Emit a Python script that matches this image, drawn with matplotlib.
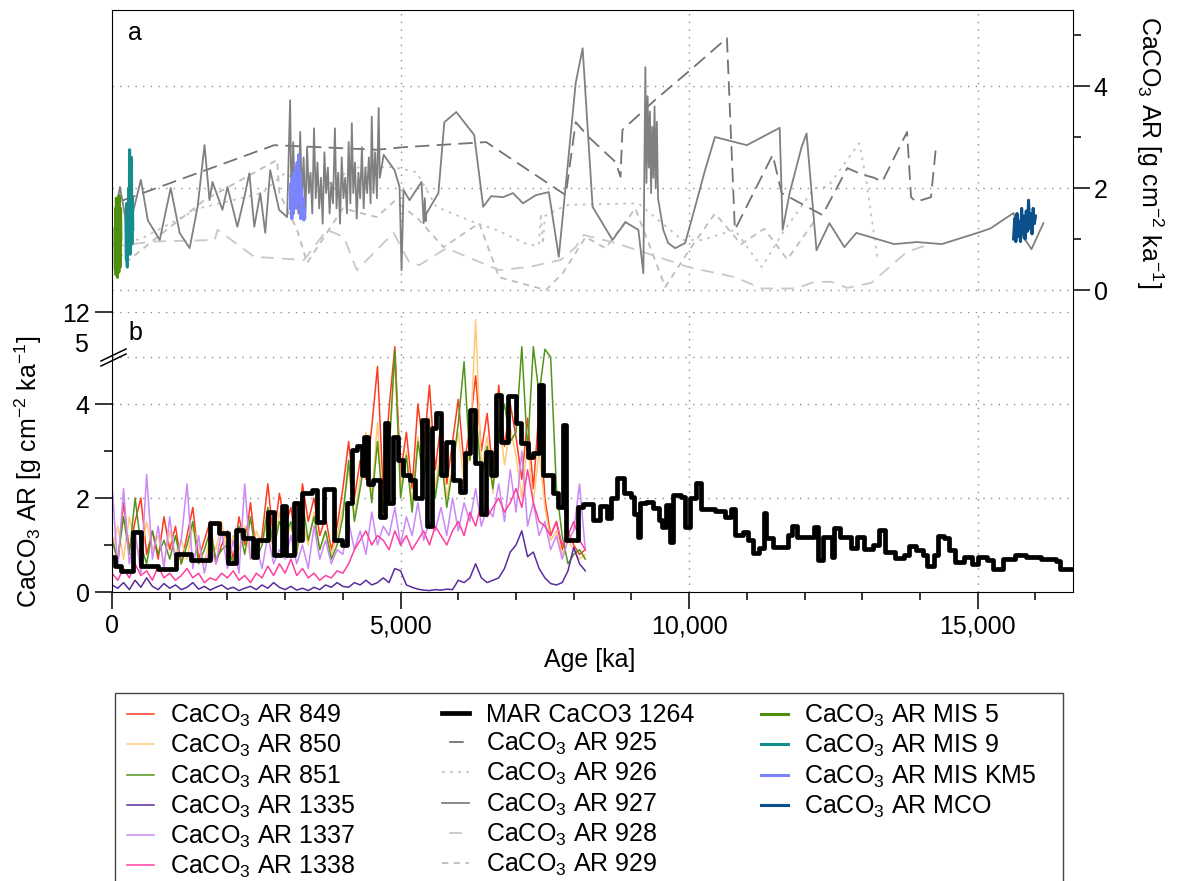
import numpy as np
import matplotlib
matplotlib.use("Agg")
import matplotlib.pyplot as plt
from matplotlib.lines import Line2D
from matplotlib.patches import Rectangle

plt.rcParams["font.family"] = ["Liberation Sans", "DejaVu Sans"]
plt.rcParams["mathtext.default"] = "regular"
plt.rcParams["font.size"] = 18

# ---------------- panel b: CaCO3 AR of the dense records (sampled every 100 ka)
age_b = [0, 100, 200, 300, 400, 500, 600, 700, 800, 900,
         1000, 1100, 1200, 1300, 1400, 1500, 1600, 1700, 1800, 1900,
         2000, 2100, 2200, 2300, 2400, 2500, 2600, 2700, 2800, 2900,
         3000, 3100, 3200, 3300, 3400, 3500, 3600, 3700, 3800, 3900,
         4000, 4100, 4200, 4300, 4400, 4500, 4600, 4700, 4800, 4900,
         5000, 5100, 5200, 5300, 5400, 5500, 5600, 5700, 5800, 5900,
         6000, 6100, 6200, 6300, 6400, 6500, 6600, 6700, 6800, 6900,
         7000, 7100, 7200, 7300, 7400, 7500, 7600, 7700, 7800, 7900,
         8000, 8100, 8200]

ar_849 = [1.2, 0.6, 1.9, 0.9, 1.5, 2.0, 0.8, 1.3, 0.7, 1.6,
          0.9, 1.4, 0.6, 1.2, 1.8, 0.7, 1.1, 1.5, 0.6, 1.0,
          1.3, 0.7, 1.6, 1.0, 1.9, 0.8, 1.2, 2.3, 1.1, 2.1,
          1.4, 1.8, 0.9, 2.3, 1.5, 2.0, 1.2, 1.6, 0.9, 1.4,
          2.2, 3.2, 2.0, 2.8, 2.4, 3.5, 4.8, 2.1, 3.9, 6.6,
          2.5, 3.4, 2.2, 4.0, 3.0, 4.4, 2.6, 3.6, 2.3, 3.2,
          4.1, 2.7, 3.5, 4.6, 3.0, 3.8, 2.5, 4.4, 3.1, 4.0,
          3.3, 2.4, 3.7, 2.2, 3.9, 2.0, 1.2, 1.5, 0.9, 1.3,
          1.0, 0.8, 0.9]
ar_850 = [0.9, 1.4, 0.7, 1.6, 1.0, 0.8, 1.5, 0.9, 1.2, 0.6,
          1.3, 0.8, 1.1, 0.7, 1.4, 1.0, 0.6, 1.2, 0.9, 1.5,
          0.8, 1.2, 0.9, 1.4, 0.7, 1.3, 1.0, 1.6, 0.8, 1.7,
          1.1, 1.4, 0.8, 1.5, 1.0, 1.7, 0.9, 1.3, 0.8, 1.2,
          1.8, 2.6, 1.6, 2.4, 3.4, 2.0, 3.6, 1.8, 2.9, 5.0,
          2.2, 3.0, 1.9, 3.3, 2.6, 3.7, 2.2, 3.1, 2.0, 2.7,
          3.4, 2.3, 3.0, 10.8, 2.6, 3.3, 2.1, 3.8, 2.7, 3.5,
          2.9, 2.0, 3.2, 1.9, 3.0, 1.8, 1.1, 1.3, 0.8, 1.1,
          0.9, 0.7, 0.8]
ar_851 = [1.1, 0.7, 1.6, 0.8, 2.0, 1.0, 0.6, 1.3, 0.8, 1.1,
          0.7, 1.2, 0.6, 1.0, 1.5, 0.6, 0.9, 1.3, 0.7, 0.9,
          1.0, 0.6, 1.4, 0.8, 1.6, 0.7, 1.0, 1.8, 0.9, 1.5,
          1.2, 1.5, 0.8, 1.9, 1.1, 1.6, 0.9, 1.3, 0.7, 1.0,
          1.6, 2.8, 1.5, 2.2, 3.0, 1.9, 3.2, 1.7, 3.0, 6.0,
          2.0, 2.9, 1.7, 3.2, 2.4, 3.4, 2.0, 2.9, 1.8, 2.6,
          3.6, 4.9, 2.8, 3.9, 2.4, 3.1, 2.2, 3.4, 4.0, 3.2,
          3.4, 6.6, 3.0, 6.6, 4.2, 6.2, 5.0, 2.2, 1.2, 0.6,
          0.8, 0.9, 0.7]
ar_1335 = [0.15, 0.08, 0.2, 0.05, 0.25, 0.1, 0.3, 0.12, 0.05, 0.18,
           0.08, 0.15, 0.05, 0.1, 0.2, 0.06, 0.12, 0.04, 0.1, 0.15,
           0.06, 0.1, 0.03, 0.08, 0.12, 0.05, 0.15, 0.08, 0.2, 0.1,
           0.05, 0.12, 0.04, 0.08, 0.03, 0.1, 0.05, 0.15, 0.1, 0.2,
           0.12, 0.1, 0.2, 0.15, 0.25, 0.15, 0.2, 0.3, 0.2, 0.5,
           0.45, 0.15, 0.1, 0.06, 0.04, 0.03, 0.05, 0.04, 0.06, 0.05,
           0.25, 0.2, 0.3, 0.6, 0.3, 0.2, 0.25, 0.3, 0.5, 0.85,
           1.0, 1.3, 0.75, 0.85, 0.5, 0.3, 0.18, 0.15, 0.2, 0.45,
           0.95, 0.6, 0.45]
ar_1337 = [2.3, 0.5, 2.2, 0.6, 1.3, 0.4, 2.5, 0.7, 1.4, 0.5,
           1.6, 0.6, 1.1, 2.3, 0.5, 1.2, 0.4, 1.0, 0.6, 1.3,
           0.5, 1.1, 0.4, 2.3, 0.7, 1.0, 0.5, 1.2, 0.6, 0.9,
           0.7, 1.2, 0.6, 1.0, 0.5, 1.4, 0.7, 1.1, 0.6, 0.9,
           0.8, 1.5, 0.9, 1.3, 0.8, 1.7, 1.0, 1.4, 1.2, 1.8,
           1.0, 1.6, 1.2, 1.9, 1.1, 1.5, 1.3, 1.8, 1.2, 2.0,
           1.3, 1.9, 1.5, 2.2, 1.4, 1.8, 1.6, 2.3, 1.5, 2.6,
           1.7, 3.0, 1.4, 1.9, 1.2, 1.5, 0.9, 1.2, 0.7, 1.1,
           1.3, 2.3, 0.9]
ar_1338 = [0.4, 0.25, 0.5, 0.3, 0.6, 0.35, 0.45, 0.25, 0.55, 0.3,
           0.4, 0.25, 0.35, 0.5, 0.3, 0.4, 0.2, 0.3, 0.25, 0.4,
           0.3, 0.45, 0.25, 0.35, 0.2, 0.4, 0.3, 0.55, 0.35, 0.6,
           0.4, 0.7, 0.35, 0.5, 0.3, 0.4, 0.25, 0.35, 0.3, 0.45,
           0.4, 0.6, 0.9, 1.1, 1.3, 1.0, 1.2, 1.1, 0.9, 1.3,
           1.0, 1.2, 0.9, 1.1, 1.3, 1.0, 1.4, 1.2, 1.0, 1.3,
           1.5, 1.2, 1.7, 1.4, 1.9, 1.6, 1.8, 2.0, 1.7, 1.9,
           2.2, 1.8, 2.6, 1.9, 1.5, 1.4, 1.2, 1.5, 1.0, 1.2,
           1.5, 1.1, 0.9]

# MAR CaCO3 1264 (stepped record)
age_1264 = [0, 60, 150, 370, 510, 800, 1115, 1370, 1690, 1860, 2005, 2150, 2265,
            2440, 2520, 2695, 2810, 2950, 3010, 3155, 3240, 3300, 3466, 3552, 3667,
            3840, 3983, 4070, 4156, 4242, 4328, 4370, 4443, 4530, 4645, 4731, 4788,
            4875, 4961, 5047, 5162, 5248, 5363, 5450, 5536, 5622, 5708, 5795, 5910,
            6025, 6111, 6197, 6283, 6398, 6485, 6571, 6657, 6743, 6858, 7002, 7088,
            7203, 7290, 7400, 7462, 7548, 7635, 7721, 7807, 7865, 8066, 8152, 8325,
            8456, 8583, 8646, 8741, 8868, 8995, 9046, 9109, 9154, 9249, 9375, 9470,
            9534, 9597, 9661, 9724, 9851, 9933, 10022, 10124, 10212, 10453, 10612,
            10720, 10802, 10929, 11011, 11100, 11214, 11290, 11328, 11455, 11708,
            11784, 11860, 12165, 12228, 12324, 12469, 12514, 12609, 12799, 12913,
            13021, 13192, 13294, 13401, 13560, 13718, 13801, 13928, 14054, 14118,
            14244, 14308, 14416, 14498, 14606, 14765, 14904, 15005, 15157, 15272,
            15430, 15652, 15842, 16095, 16362, 16425, 16650]
mar_1264 = [0.75, 0.55, 0.45, 1.28, 0.55, 0.50, 0.80, 0.68, 1.46, 1.25, 0.61, 1.32, 1.14,
            0.75, 1.10, 1.71, 0.79, 1.82, 0.79, 1.89, 1.10, 2.10, 2.17, 1.50, 2.20,
            1.10, 1.00, 1.90, 3.02, 3.10, 2.50, 3.30, 2.30, 2.38, 1.60, 3.60, 1.90,
            3.30, 2.80, 2.50, 2.38, 2.00, 3.66, 1.40, 3.50, 3.80, 2.50, 3.20, 2.38,
            2.13, 2.95, 3.87, 2.74, 1.67, 2.98, 2.50, 4.19, 3.20, 4.16, 3.60, 3.16,
            2.88, 2.95, 4.40, 2.50, 2.50, 2.10, 1.81, 3.55, 1.10, 1.81, 1.88, 1.53,
            1.82, 1.57, 1.99, 2.42, 2.10, 2.03, 1.67, 1.18, 1.89, 1.92, 1.78, 1.53,
            1.39, 1.85, 1.07, 2.06, 2.03, 1.39, 1.99, 2.31, 1.76, 1.73, 1.60,
            1.76, 1.21, 1.28, 1.11, 0.84, 0.93, 1.69, 1.14, 0.95, 1.21,
            1.40, 1.16, 1.39, 0.68, 1.16, 0.74, 1.37, 1.16, 0.93, 1.18,
            0.91, 1.00, 1.32, 0.86, 0.72, 0.79, 0.98, 0.89, 0.79, 0.55,
            0.79, 1.19, 1.14, 0.89, 0.64, 0.75, 0.60, 0.74, 0.68, 0.50,
            0.70, 0.79, 0.74, 0.70, 0.65, 0.48, 0.48]

# ---------------- panel a: lower-resolution records
age_927 = [50, 138, 276, 500, 620, 827, 1017, 1172, 1345, 1483, 1603, 1690, 1741,
           1914, 2000, 2172, 2293, 2379, 2465, 2569, 2655, 2741, 2896, 3034, 3086,
           3110, 3140, 3170, 3200, 3230, 3260, 3290, 3320, 3350, 3380, 3410, 3440,
           3470, 3500, 3530, 3560, 3590, 3620, 3650, 3680, 3710, 3740, 3770, 3800,
           3830, 3862, 3890, 3920, 3950, 3980, 4010, 4040, 4070, 4100, 4130, 4155,
           4180, 4210, 4240, 4270, 4300, 4330, 4360, 4390, 4420, 4450, 4480, 4500,
           4530, 4560, 4590, 4620, 4640, 4707, 4896, 4982, 5017, 5051, 5155, 5362,
           5400, 5420, 5435, 5448, 5655, 5758, 5965, 6275, 6431, 6569, 6775, 6948,
           7120, 7344, 7568, 7741, 8034, 8154, 8327, 8672, 8896, 9120, 9206, 9241,
           9260, 9280, 9300, 9320, 9340, 9360, 9380, 9400, 9420, 9440, 9460, 9551,
           9637, 9758, 9930, 10103, 10275, 10447, 10999, 11568, 11620, 11740, 11947,
           12034, 12206, 12430, 12689, 12896, 13551, 13948, 14378, 15050, 15223,
           15620, 15706, 15826, 15930, 16137]
ar_927 = [1.50, 2.02, 1.12, 2.16, 1.37, 0.98, 2.00, 1.12, 0.82, 1.63, 2.84, 1.76, 2.12,
          1.57, 2.02, 1.24, 1.82, 2.29, 1.24, 1.90, 1.12, 2.35, 1.57, 1.43, 3.72,
          1.60, 2.90, 1.70, 2.40, 1.50, 3.10, 1.80, 2.60, 1.40, 2.80, 1.90, 2.30,
          1.50, 3.17, 1.80, 2.50, 1.60, 2.20, 1.30, 2.70, 1.90, 2.40, 1.50, 2.10,
          1.70, 3.17, 1.60, 2.30, 1.30, 2.60, 1.80, 2.20, 1.50, 2.90, 1.70, 3.27,
          1.90, 2.50, 1.40, 2.30, 1.80, 2.80, 1.60, 2.40, 1.90, 2.60, 1.70, 3.40,
          1.90, 2.70, 1.80, 3.57, 2.20, 2.65, 2.35, 2.02, 0.39, 1.96, 1.76, 2.12,
          1.31, 1.80, 1.35, 1.50, 1.90, 3.29, 3.49, 3.04, 1.63, 1.84, 1.82, 1.90,
          1.70, 1.86, 1.92, 0.65, 4.06, 4.74, 1.63, 0.98, 1.33, 1.18, 0.33, 4.37,
          2.10, 3.80, 2.40, 3.50, 1.90, 3.20, 2.20, 3.60, 2.00, 3.30, 1.80, 1.18,
          0.92, 0.82, 0.92, 1.63, 2.35, 3.00, 2.84, 3.18, 1.18, 1.90, 2.80,
          3.07, 0.78, 1.31, 0.84, 1.12, 0.90, 0.94, 0.90, 1.14, 1.21,
          1.51, 1.14, 0.98, 0.80, 1.31]

age_925 = [170, 2810, 4586, 5051, 6482, 7861, 8034, 8258, 8723, 8810, 8844, 9413,
           10017, 10654, 10792, 11447, 11602, 12309, 12740, 12982, 13206, 13344,
           13775, 13844, 13930, 14189, 14275]
ar_925 = [1.75, 2.84, 2.75, 2.80, 2.90, 1.86, 3.29, 3.00, 2.51, 2.22, 3.14, 3.73,
          4.31, 4.94, 1.18, 2.65, 1.90, 1.47, 2.39, 2.27, 2.20, 2.12,
          3.10, 1.82, 1.73, 1.82, 2.80]

age_926 = [0, 500, 1500, 2600, 3000, 3500, 4200, 4879, 5276, 5620, 6310, 6655, 7224,
           7396, 7430, 7465, 7500, 7810, 7913, 9120, 9880, 10220, 10790, 11257,
           11654, 12171, 12400, 12947, 13068, 13258]
ar_926 = [0.90, 1.00, 1.60, 1.90, 2.30, 1.90, 2.40, 2.41, 2.31, 1.63, 1.31, 1.18, 0.88,
          0.88, 1.50, 0.90, 1.45, 1.63, 1.67, 1.70, 0.98, 0.98, 1.18, 0.45,
          1.18, 2.00, 2.02, 2.88, 2.16, 0.65]

age_928 = [0, 700, 1780, 1830, 2465, 3327, 3724, 4017, 4241, 4879, 5155, 5328, 5793,
           6706, 7224, 7775, 8034, 8172, 8723, 9241, 9982, 10800, 11250, 11850,
           12171, 12465, 12740, 13154, 13775, 14120]
ar_928 = [0.85, 0.95, 0.98, 1.18, 0.65, 0.59, 1.18, 1.04, 0.39, 1.12, 0.53, 0.49, 0.82,
          0.39, 0.45, 0.59, 0.84, 1.08, 0.92, 0.73, 0.45, 0.25, 0.03, 0.03,
          0.16, 0.16, 0.04, 0.14, 0.75, 0.88]

age_929 = [0, 250, 800, 1600, 2860, 2900, 3207, 3379, 4000, 4586, 4900, 5300, 5741,
           6362, 6706, 7517, 7810, 8206, 8551, 9068, 9586, 9982, 10447, 10900,
           11300, 11700, 12200]
ar_929 = [0.95, 0.55, 1.05, 1.76, 2.55, 1.90, 1.18, 0.53, 1.60, 1.43, 1.75, 1.40, 0.84,
          1.31, 0.25, 0.00, 0.33, 1.04, 0.82, 1.60, 0.06, 0.75, 1.50, 0.90,
          1.20, 0.60, 1.40]

age_mis5 = [52, 58, 64, 70, 76, 82, 88, 94, 100, 106, 112, 118, 124, 130, 136, 142, 148, 154]
ar_mis5 = [1.2, 0.4, 1.6, 0.3, 1.8, 0.6, 1.5, 0.25, 1.7, 0.5, 1.4, 0.35, 1.85, 0.7, 1.3,
           0.45, 1.6, 1.0]
age_mis9 = [241, 249, 257, 265, 273, 281, 289, 297, 305, 313, 321, 329, 337, 345, 353, 361]
ar_mis9 = [1.4, 0.6, 1.7, 0.45, 1.3, 0.8, 2.0, 0.9, 2.75, 0.7, 2.2, 1.0, 2.6, 0.9, 1.8, 1.2]
age_km5 = [3090, 3103, 3116, 3129, 3142, 3155, 3168, 3181, 3194, 3207, 3220, 3233, 3246,
           3259, 3272, 3285, 3298, 3311, 3324, 3337]
ar_km5 = [1.6, 2.1, 1.4, 2.2, 1.5, 2.3, 1.7, 2.4, 1.6, 2.5, 1.9, 2.65, 1.7, 2.3, 1.4, 2.0,
          1.5, 1.8, 1.37, 1.6]
age_mco = [15620, 15640, 15660, 15680, 15700, 15720, 15740, 15760, 15780, 15800, 15820,
           15840, 15860, 15880, 15900, 15920, 15940, 15960, 15980, 16000]
ar_mco = [1.0, 1.4, 0.95, 1.5, 1.05, 1.35, 0.95, 1.6, 1.1, 1.45, 1.0, 1.55, 1.15, 1.76,
          1.2, 1.5, 1.1, 1.6, 1.3, 1.45]

# ---------------- styles
ST = {
    "849": dict(color="#ff3b1f", lw=1.1),
    "850": dict(color="#ffc978", lw=1.1),
    "851": dict(color="#52951a", lw=1.1),
    "1335": dict(color="#5b2c9e", lw=1.1),
    "1337": dict(color="#cc88f5", lw=1.1),
    "1338": dict(color="#ff3fa0", lw=1.1),
    "1264": dict(color="black", lw=3.4),
    "925": dict(color="#737373", lw=1.3, ls=(0, (8, 4))),
    "926": dict(color="#c2c2c2", lw=1.3, ls=(0, (1.5, 3))),
    "927": dict(color="#808080", lw=1.3),
    "928": dict(color="#c8c8c8", lw=1.3, ls=(0, (7, 4.5))),
    "929": dict(color="#bdbdbd", lw=1.3, ls=(0, (3.5, 3))),
    "mis5": dict(color="#4f8f0f", lw=2.2),
    "mis9": dict(color="#178c8c", lw=2.2),
    "km5": dict(color="#7b84ff", lw=2.2),
    "mco": dict(color="#0b4f8c", lw=2.2),
}
# legend swatches for the long-dash records show one centred dash
LEG_LS = {"925": (24, (8, 20)), "928": (24, (7, 21))}
GRID = dict(color="#8c8c8c", lw=1.0, ls=(0, (1, 4.5)), zorder=0)

W, H = 1178, 881
fig = plt.figure(figsize=(W / 100, H / 100), dpi=100)


def fx(px):
    return px / W


def fy(py):
    return 1 - py / H


XMAX = 16650
ax1 = fig.add_axes([fx(112), fy(312), fx(1073) - fx(112), fy(10) - fy(312)])
ax2 = fig.add_axes([fx(112), fy(592), fx(1073) - fx(112), fy(312) - fy(592)])

# ---- panel a
ytop = 280 / 51
ax1.set_xlim(0, XMAX)
ax1.set_ylim(-22 / 51, ytop)
for y in (0, 2, 4):
    ax1.axhline(y, **GRID)
ax1.vlines([5000, 10000, 15000], 0, ytop, **GRID)
for key, a, v in [("929", age_929, ar_929), ("928", age_928, ar_928),
                  ("926", age_926, ar_926), ("925", age_925, ar_925),
                  ("927", age_927, ar_927)]:
    ax1.plot(a, v, **ST[key])
for key, a, v in [("mis5", age_mis5, ar_mis5), ("mis9", age_mis9, ar_mis9),
                  ("km5", age_km5, ar_km5), ("mco", age_mco, ar_mco)]:
    ax1.plot(a, v, **ST[key])
ax1.spines["bottom"].set_visible(False)
ax1.set_xticks([])
ax1.yaxis.tick_right()
ax1.set_yticks([0, 2, 4])
ax1.set_yticks([1, 3, 5], minor=True)
ax1.tick_params(axis="y", which="major", length=12, width=1.1, pad=3)
ax1.tick_params(axis="y", which="minor", length=6, width=1.1)

# ---- panel b with broken y axis above 5
K = (45 / 47) / 7


def fwd(y):
    y = np.asarray(y, dtype=float)
    return np.where(y <= 5, y, 5 + (y - 5) * K)


def inv(y):
    y = np.asarray(y, dtype=float)
    return np.where(y <= 5, y, 5 + (y - 5) / K)


ax2.set_yscale("function", functions=(fwd, inv))
ax2.set_xlim(0, XMAX)
ax2.set_ylim(0, 12)
for y in (2, 4, 5, 12):
    ax2.axhline(y, **GRID)
ax2.vlines([5000, 10000, 15000], 0, 12, **GRID)
for key, v in [("849", ar_849), ("850", ar_850), ("851", ar_851),
               ("1337", ar_1337), ("1338", ar_1338), ("1335", ar_1335)]:
    ax2.plot(age_b, v, **ST[key])
ax2.step(age_1264, mar_1264, where="post", **ST["1264"])
ax2.spines["top"].set_visible(False)
ax2.set_yticks([0, 2, 4, 12])
ax2.set_yticks([1, 3], minor=True)
ax2.set_xticks([0, 5000, 10000, 15000], labels=["0", "5,000", "10,000", "15,000"])
ax2.set_xticks([1000, 2000, 3000, 4000, 6000, 7000, 8000, 9000, 11000, 12000,
                13000, 14000, 16000], minor=True)
ax2.tick_params(which="major", length=12, width=1.1, pad=4)
ax2.tick_params(which="minor", length=6, width=1.1)
ax2.text(-0.025, 6.87, "5", transform=ax2.get_yaxis_transform(), ha="right", va="center")
for y0 in (361, 366):
    fig.add_artist(Line2D([fx(101), fx(126)], [fy(y0), fy(y0 - 12)],
                          transform=fig.transFigure, color="black", lw=1.1))

fig.text(fx(128), fy(33), "a", ha="left", va="center")
fig.text(fx(128), fy(333), "b", ha="left", va="center")
fig.text(fx(1150), fy(152), "CaCO$_3$ AR [g cm$^{-2}$ ka$^{-1}$]", rotation=270,
         ha="center", va="center")
fig.text(fx(28), fy(472), "CaCO$_3$ AR [g cm$^{-2}$ ka$^{-1}$]", rotation=90,
         ha="center", va="center")
fig.text(fx(590), fy(660), "Age [ka]", ha="center", va="center")

# ---- legend: three columns in one frame
cols = [
    [("849", "CaCO$_3$ AR 849"), ("850", "CaCO$_3$ AR 850"), ("851", "CaCO$_3$ AR 851"),
     ("1335", "CaCO$_3$ AR 1335"), ("1337", "CaCO$_3$ AR 1337"), ("1338", "CaCO$_3$ AR 1338")],
    [("1264", "MAR CaCO3 1264"), ("925", "CaCO$_3$ AR 925"), ("926", "CaCO$_3$ AR 926"),
     ("927", "CaCO$_3$ AR 927"), ("928", "CaCO$_3$ AR 928"), ("929", "CaCO$_3$ AR 929")],
    [("mis5", "CaCO$_3$ AR MIS 5"), ("mis9", "CaCO$_3$ AR MIS 9"),
     ("km5", "CaCO$_3$ AR MIS KM5"), ("mco", "CaCO$_3$ AR MCO")],
]
for x0, entries in zip((127, 442, 761), cols):
    handles = []
    for k, _ in entries:
        style = dict(ST[k])
        if k in LEG_LS:
            style["ls"] = LEG_LS[k]
        handles.append(Line2D([], [], **style))
    labels = [t for _, t in entries]
    fig.legend(handles, labels, loc="upper left", bbox_to_anchor=(fx(x0), fy(703)),
               bbox_transform=fig.transFigure, frameon=False, borderpad=0,
               borderaxespad=0, handlelength=1.08, handletextpad=0.66,
               labelspacing=0.16, fontsize=18)
fig.add_artist(Rectangle((fx(115), fy(900)), fx(1063) - fx(115), fy(693) - fy(900),
                         transform=fig.transFigure, fill=False, edgecolor="#444444",
                         lw=1.0, clip_on=False))

fig.savefig("out.png", dpi=100)
